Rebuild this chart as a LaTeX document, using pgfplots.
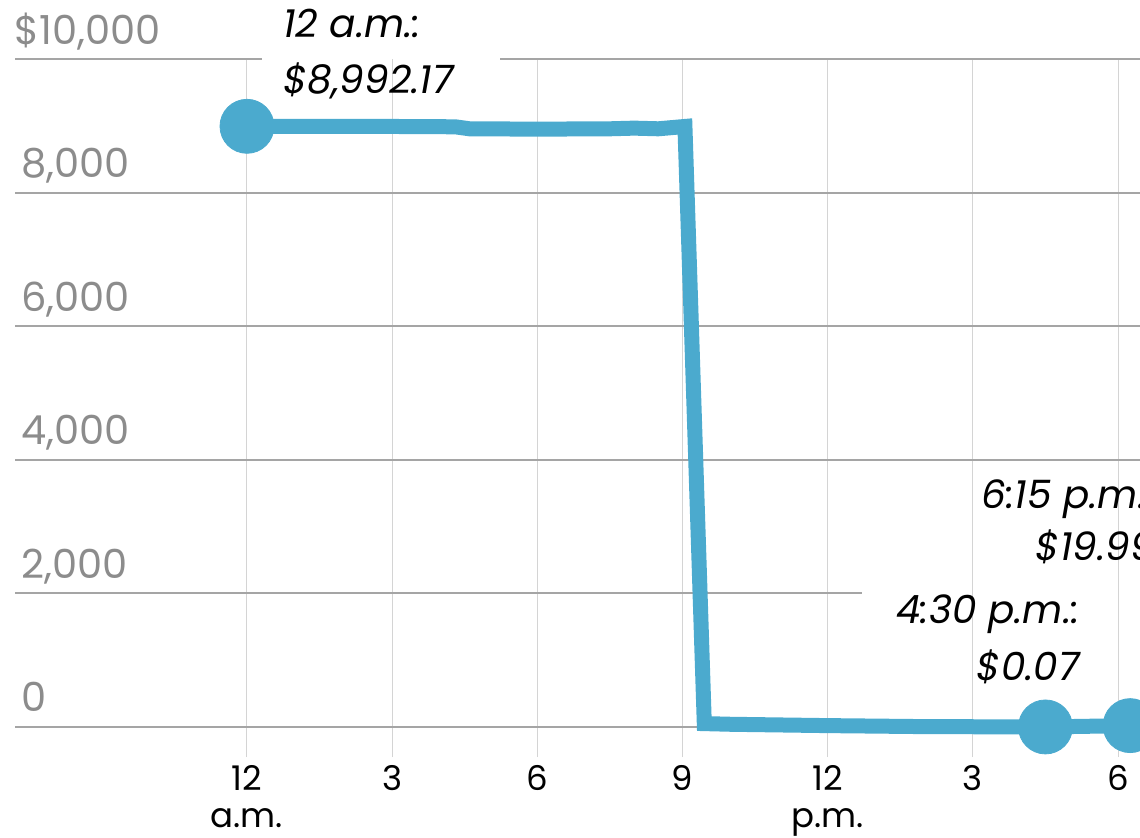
\documentclass[border=0pt]{standalone}
\usepackage{fontspec}
\setmainfont{Poppins}
\usepackage{pgfplots}
\pgfplotsset{compat=1.18}
\definecolor{lineblue}{RGB}{75,170,206}
\definecolor{hgrid}{RGB}{165,165,165}
\definecolor{vgrid}{RGB}{212,212,212}
\definecolor{ylab}{RGB}{140,140,140}

\begin{document}
\begin{tikzpicture}[x=1pt,y=1pt]
\path[use as bounding box, clip] (0,0) rectangle (570,418.5);
\begin{axis}[
  at={(7.5pt,40pt)}, anchor=south west,
  scale only axis, width=562.5pt, height=349pt,
  xmin=-4.794, xmax=18.454, ymin=-450, ymax=10000,
  scaled y ticks=false,
  axis line style={draw=none},
  major tick length=0pt,
  xtick={0,3,...,18},
  xticklabels={{12\\a.m.},3,6,9,{12\\p.m.},3,6},
  xticklabel style={align=center, font=\fontsize{17}{18.5}\selectfont, anchor=north, inner sep=0pt, yshift=-4pt},
  xmajorgrids,
  x grid style={vgrid, line width=0.5pt},
  ymajorgrids,
  y grid style={hgrid, line width=1pt},
  ytick={0,4000,6000,8000},
  yticklabels={0,{4,000},{6,000},{8,000}},
  extra y ticks={2000,10000},
  extra y tick labels={{2,000},{\hspace*{-3.5pt}\$10,000}},
  extra y tick style={grid=none},
  yticklabel style={anchor=base west, inner sep=0pt, xshift=3pt, yshift=7.5pt, font=\fontsize{20}{24}\selectfont, text=ylab},
  clip=false,
]
\draw[hgrid, line width=1pt] (axis cs:-4.794,2000) -- (axis cs:12.71,2000);
\draw[hgrid, line width=1pt] (axis cs:-4.794,10000) -- (axis cs:0.31,10000);
\draw[hgrid, line width=1pt] (axis cs:5.23,10000) -- (axis cs:18.454,10000);
\addplot[lineblue, line width=7.5pt] coordinates {
  (0,8992.17) (1.5,8992) (3,8990) (4.3,8985) (4.6,8955) (6,8950)
  (7.5,8955) (8,8965) (8.5,8955) (9.05,8990) (9.45,50) (10,40)
  (12,20) (14,5) (16.5,0.07) (18.25,19.99)
};
\addplot[only marks, mark=*, mark size=13.5pt, color=lineblue] coordinates {
  (0,8992.17) (16.5,0.07) (18.25,19.99)
};
\end{axis}
\node[anchor=base west, inner sep=0pt, font=\fontsize{19.5}{24}\selectfont\itshape] at (141.5,399.5) {12 a.m.:};
\node[anchor=base west, inner sep=0pt, font=\fontsize{19.5}{24}\selectfont\itshape] at (141.5,371.5) {\$8,992.17};
\node[anchor=base east, inner sep=0pt, font=\fontsize{19.5}{24}\selectfont\itshape] at (540,107) {4:30 p.m.:};
\node[anchor=base east, inner sep=0pt, font=\fontsize{19.5}{24}\selectfont\itshape] at (540,78.5) {\$0.07};
\node[anchor=base east, inner sep=0pt, font=\fontsize{19.5}{24}\selectfont\itshape] at (577.5,164.5) {6:15 p.m.:};
\node[anchor=base east, inner sep=0pt, font=\fontsize{19.5}{24}\selectfont\itshape] at (577.5,138.5) {\$19.99};
\end{tikzpicture}
\end{document}
